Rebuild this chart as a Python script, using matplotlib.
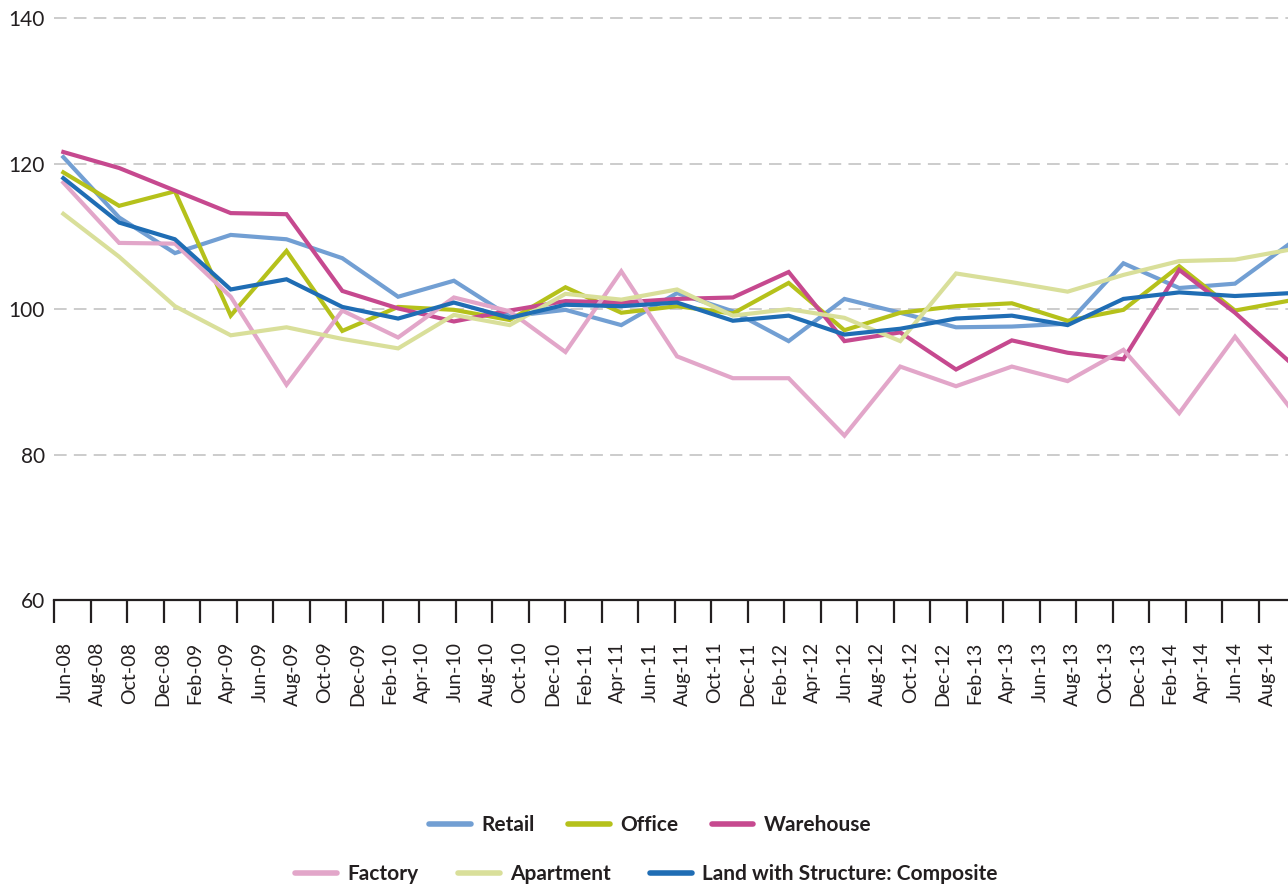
import numpy as np
import matplotlib
matplotlib.use("Agg")
import matplotlib.pyplot as plt

# --- DATA (quarterly index values, Jun-08 onward) ---
retail = [120.9, 112.6, 107.7, 110.2, 109.6, 107.0, 101.7, 103.9, 99.0, 99.9, 97.8, 102.2,
          99.7, 95.6, 101.4, 99.5, 97.5, 97.6, 98.0, 106.3, 102.9, 103.5, 109.1]
office = [118.8, 114.2, 116.2, 99.1, 108.0, 97.0, 100.3, 99.9, 98.5, 103.0, 99.5, 100.4,
          99.4, 103.6, 97.1, 99.5, 100.4, 100.8, 98.4, 99.9, 105.9, 99.8, 101.2]
warehouse = [121.6, 119.4, 116.3, 113.2, 113.05, 102.5, 100.1, 98.3, 99.8, 101.1, 100.9, 101.4,
             101.6, 105.1, 95.6, 96.8, 91.7, 95.7, 94.0, 93.1, 105.4, 99.5, 92.6]
factory = [117.4, 109.1, 109.0, 101.7, 89.6, 99.8, 96.1, 101.6, 99.7, 94.1, 105.2, 93.5,
           90.5, 90.5, 82.6, 92.1, 89.4, 92.1, 90.1, 94.4, 85.7, 96.2, 86.3]
apartment = [113.1, 107.2, 100.4, 96.4, 97.5, 95.9, 94.6, 99.2, 97.8, 102.1, 101.3, 102.7,
             99.1, 100.0, 98.8, 95.6, 104.9, 103.7, 102.4, 104.7, 106.6, 106.8, 108.2]
composite = [118.0, 111.9, 109.6, 102.7, 104.1, 100.3, 98.7, 100.9, 98.8, 100.6, 100.4, 100.9,
             98.4, 99.1, 96.5, 97.3, 98.7, 99.1, 97.8, 101.4, 102.3, 101.8, 102.2]

month_labels = []
for yr in range(8, 15):
    for m in ["Feb", "Apr", "Jun", "Aug", "Oct", "Dec"]:
        month_labels.append(f"{m}-{yr:02d}")
month_labels = month_labels[2:2 + 38]   # Jun-08 ... Aug-14

names = ["Retail", "Office", "Warehouse", "Factory", "Apartment",
         "Land with Structure: Composite"]
colors = ["#729fd3", "#b5c11b", "#c6498f", "#e2a6c9", "#d9df9a", "#1f6db4"]
series = [retail, office, warehouse, factory, apartment, composite]

# --- FIGURE ---
plt.rcParams["font.family"] = ["Lato", "DejaVu Sans"]
text_col = "#231f20"

fig = plt.figure(figsize=(12.88, 8.85), dpi=100)
ax = fig.add_axes([0.0422, 0.322, 0.9578, 0.678])

x = np.arange(len(retail))
lines = []
for vals, name, col in zip(series, names, colors):
    ln, = ax.plot(x, vals, color=col, lw=3.0, label=name, solid_joinstyle="miter")
    lines.append(ln)

ax.set_xlim(-0.161, 21.95)
ax.set_ylim(60, 142.5)

# y axis
ax.set_yticks([60, 80, 100, 120, 140])
ax.tick_params(axis="y", length=0, pad=7, labelsize=15, labelcolor=text_col)
for v in [80, 100, 120, 140]:
    ax.axhline(v, color="#c8c8c8", lw=1.3, dashes=(7, 4), zorder=0)

# x axis: tick marks and labels sit at different spacings
tick_pos = -0.161 + 0.6541 * np.arange(34)
label_pos = 0.03 + 0.5826 * np.arange(len(month_labels))
ax.set_xticks(tick_pos)
ax.set_xticklabels([])
ax.tick_params(axis="x", which="major", length=16.5, width=1.6, color=text_col)
ax.set_xticks(label_pos, minor=True)
ax.set_xticklabels(month_labels, minor=True, rotation=90, fontsize=14, color=text_col)
ax.tick_params(axis="x", which="minor", length=0, pad=30)

for s in ["top", "right", "left"]:
    ax.spines[s].set_visible(False)
ax.spines["bottom"].set_linewidth(1.6)
ax.spines["bottom"].set_color(text_col)

# --- LEGEND (two independently centred rows) ---
leg_kw = dict(loc="center", ncol=3, frameon=False, handlelength=2.0, handletextpad=0.5,
              borderpad=0, prop={"weight": "bold", "size": 15})
leg1 = fig.legend(handles=lines[:3], bbox_to_anchor=(0.505, 0.068), columnspacing=1.6, **leg_kw)
leg2 = fig.legend(handles=lines[3:], bbox_to_anchor=(0.502, 0.012), columnspacing=1.9, **leg_kw)
for leg in (leg1, leg2):
    for t in leg.get_texts():
        t.set_color(text_col)
    for h in leg.legend_handles:
        h.set_linewidth(4)
        h.set_solid_capstyle("round")

fig.savefig("out.png", dpi=100)
